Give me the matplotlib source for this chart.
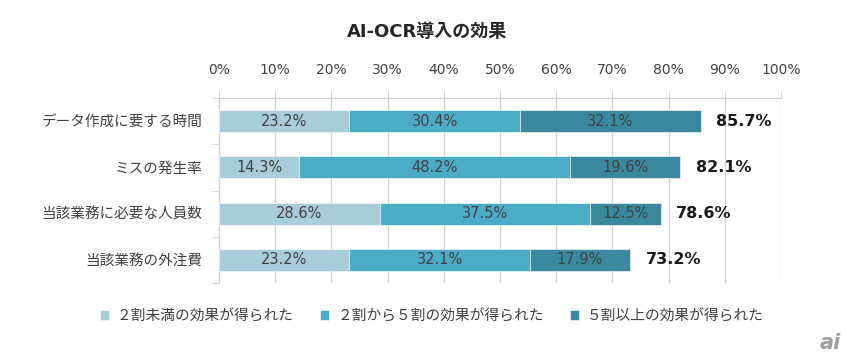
"""AI-OCR導入の効果 — stacked horizontal bar chart."""

import matplotlib

matplotlib.use("Agg")

import matplotlib.pyplot as plt
import numpy as np

plt.rcParams["font.family"] = ["Noto Sans CJK JP", "DejaVu Sans"]
LATIN_FIRST = ["DejaVu Sans", "Noto Sans CJK JP"]

TITLE = "AI-OCR導入の効果"

CATEGORIES = [
    "データ作成に要する時間",
    "ミスの発生率",
    "当該業務に必要な人員数",
    "当該業務の外注費",
]

SERIES_LABELS = [
    "２割未満の効果が得られた",
    "２割から５割の効果が得られた",
    "５割以上の効果が得られた",
]

LOW = [23.2, 14.3, 28.6, 23.2]
MID = [30.4, 48.2, 37.5, 32.1]
HIGH = [32.1, 19.6, 12.5, 17.9]
TOTALS = [85.7, 82.1, 78.6, 73.2]

X_TICKS = list(range(0, 101, 10))

COLORS = ["#A7CDDB", "#4BACC6", "#3A8A9F"]
TEXT_COLOR = "#404040"
GRID_COLOR = "#D0D0D0"


def main() -> None:
    fig = plt.figure(figsize=(8.49, 3.63), dpi=100)
    ax = fig.add_axes([219 / 849, 1 - 283 / 363, 562 / 849, 185 / 363])

    y = np.arange(len(CATEGORIES))
    left = np.zeros(len(CATEGORIES))
    for vals, color, label in zip([LOW, MID, HIGH], COLORS, SERIES_LABELS):
        vals = np.array(vals)
        ax.barh(y, vals, left=left, height=0.48, color=color, label=label,
                edgecolor="white", linewidth=0.4, zorder=3)
        for yi, l, v in zip(y, left, vals):
            ax.text(l + v / 2, yi, f"{v:.1f}%", ha="center", va="center",
                    fontsize=10.5, color=TEXT_COLOR, family=LATIN_FIRST, zorder=4)
        left = left + vals

    for yi, tot in zip(y, TOTALS):
        ax.annotate(f"{tot:.1f}%", xy=(tot, yi), xytext=(11, 0),
                    textcoords="offset points", ha="left", va="center",
                    fontsize=11.5, fontweight="bold", color="#1A1A1A",
                    family=LATIN_FIRST, zorder=4)

    ax.set_xlim(0, 100)
    ax.set_ylim(len(CATEGORIES) - 0.5, -0.5)

    ax.xaxis.tick_top()
    ax.set_xticks(X_TICKS)
    ax.set_xticklabels([f"{t}%" for t in X_TICKS], fontsize=10, color=TEXT_COLOR,
                       family=LATIN_FIRST)
    ax.tick_params(axis="x", direction="out", length=5, color=GRID_COLOR, pad=10)
    ax.grid(axis="x", color=GRID_COLOR, linewidth=0.9, zorder=0)

    ax.set_yticks(y)
    ax.set_yticklabels(CATEGORIES, fontsize=10.5, color=TEXT_COLOR)
    ax.set_yticks(np.arange(-0.5, len(CATEGORIES) + 0.5, 1), minor=True)
    ax.tick_params(axis="y", which="major", length=0, pad=12)
    ax.tick_params(axis="y", which="minor", direction="out", length=5, color=GRID_COLOR)

    for side in ["right", "bottom"]:
        ax.spines[side].set_visible(False)
    for side in ["top", "left"]:
        ax.spines[side].set_color(GRID_COLOR)
        ax.spines[side].set_linewidth(0.9)

    fig.text(427 / 849, 1 - 32 / 363, TITLE, ha="center", va="center",
             fontsize=13, fontweight="bold", color="#262626", family=LATIN_FIRST)

    fig.legend(loc="center", bbox_to_anchor=(432 / 849, 1 - 316 / 363), ncol=3,
               frameon=False, fontsize=10.6, handlelength=0.6, handleheight=0.6,
               handletextpad=0.55, columnspacing=1.8, labelcolor=TEXT_COLOR)

    fig.text(830 / 849, 1 - 343 / 363, "ai", ha="center", va="center",
             fontsize=15, fontweight="bold", style="italic", color="#A0A0A0",
             family="DejaVu Sans")

    fig.savefig("out.png", dpi=100, facecolor="white")
    plt.close(fig)


if __name__ == "__main__":
    main()
